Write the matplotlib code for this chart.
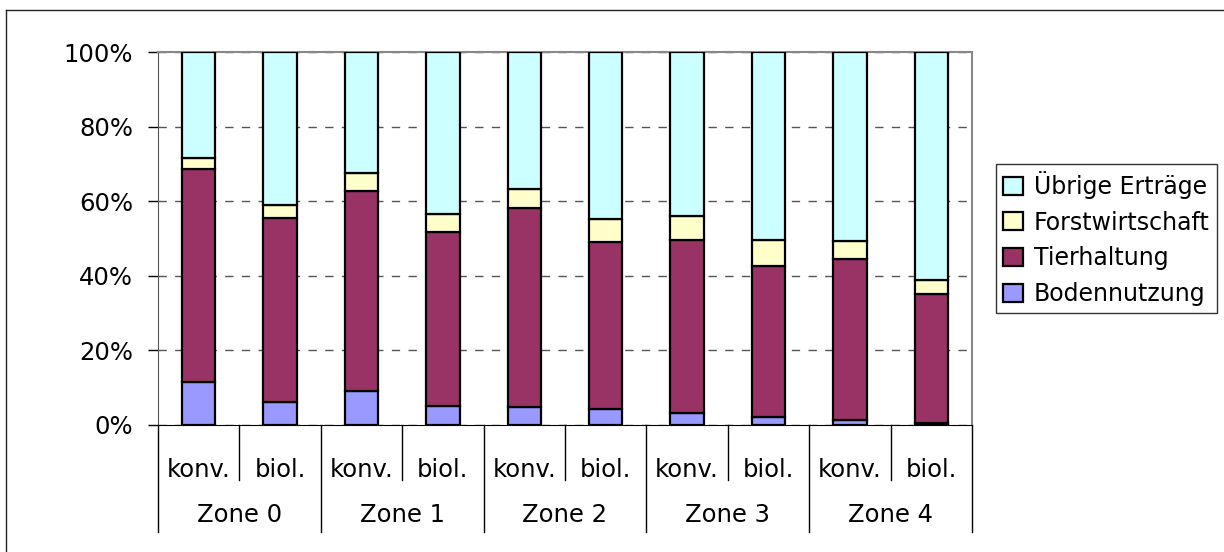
import numpy as np
import matplotlib
matplotlib.use("Agg")
import matplotlib.pyplot as plt
from matplotlib.lines import Line2D

# Daten (Anteile in %)
zonen = ["Zone 0", "Zone 1", "Zone 2", "Zone 3", "Zone 4"]
betrieb = ["konv.", "biol."]
bodennutzung = [11.4, 6.1, 9.0, 5.0, 4.7, 4.4, 3.3, 2.2, 1.4, 0.6]
tierhaltung = [57.1, 49.3, 53.7, 46.8, 53.4, 44.7, 46.2, 40.3, 43.1, 34.4]
forstwirtschaft = [3.2, 3.6, 4.9, 4.8, 5.3, 6.0, 6.5, 7.2, 4.8, 3.8]
uebrige = [100 - a - b - c for a, b, c in zip(bodennutzung, tierhaltung, forstwirtschaft)]

serien = [
    ("Bodennutzung", bodennutzung, "#9999FF"),
    ("Tierhaltung", tierhaltung, "#993366"),
    ("Forstwirtschaft", forstwirtschaft, "#FFFFCC"),
    ("Übrige Erträge", uebrige, "#CCFFFF"),
]

plt.rcParams["font.family"] = ["DejaVu Sans"]

W, H = 1224, 552
fig = plt.figure(figsize=(W / 100, H / 100), dpi=100)
# Plotfläche in Pixeln: links 158, rechts 972, oben 52, unten 425
ax = fig.add_axes([158 / W, 1 - 425 / H, (972 - 158) / W, (425 - 52) / H])

n = len(bodennutzung)
x = np.arange(n)
unten = np.zeros(n)
handles = []
for name, werte, farbe in serien:
    b = ax.bar(x, werte, bottom=unten, width=0.41, color=farbe,
               edgecolor="black", linewidth=1.6, label=name, zorder=3)
    handles.append(b)
    unten += np.array(werte)

ax.set_xlim(-0.5, n - 0.5)
ax.set_ylim(0, 100)
ax.set_yticks([0, 20, 40, 60, 80, 100])
ax.set_yticklabels(["0%", "20%", "40%", "60%", "80%", "100%"], fontsize=17.5)
ax.tick_params(axis="y", length=7, width=1, pad=11)
ax.set_xticks([])
ax.yaxis.grid(True, linestyle=(0, (6, 6)), color="#555555", linewidth=1)
ax.set_axisbelow(True)

for s in ["top", "right"]:
    ax.spines[s].set_color("#888888")
    ax.spines[s].set_linewidth(1.5)
ax.spines["left"].set_color("#555555")
ax.spines["bottom"].set_color("black")

# Kategorie-Beschriftung (zweistufig)
hoehe = 425 - 52
kurz = -(480 - 425) / hoehe
lang = -(532 - 425) / hoehe
trans = ax.get_xaxis_transform()
for i in range(n + 1):
    y_end = lang if i % 2 == 0 else kurz
    ax.add_line(Line2D([i - 0.5, i - 0.5], [0, y_end], transform=trans,
                       color="black", linewidth=1, clip_on=False))
for i in range(n):
    ax.text(i, -(470 - 425) / hoehe, betrieb[i % 2], transform=trans,
            ha="center", va="center", fontsize=17.5)
for j, z in enumerate(zonen):
    ax.text(2 * j + 0.5, -(515 - 425) / hoehe, z, transform=trans,
            ha="center", va="center", fontsize=17.5)

# Legende
leg = ax.legend(handles[::-1], [s[0] for s in serien][::-1],
                loc="center left", bbox_to_anchor=(996 / W, 1 - 238.5 / H),
                bbox_transform=fig.transFigure, fontsize=17, frameon=True,
                fancybox=False, edgecolor="black", handlelength=0.85,
                handleheight=0.8, handletextpad=0.45, labelspacing=0.5,
                borderpad=0.3, borderaxespad=0)
leg.get_frame().set_linewidth(1)

# Rahmen um die Grafik (links und oben sichtbar)
fig.add_artist(Line2D([6 / W, 6 / W], [0, 1 - 10 / H], transform=fig.transFigure,
                      color="#222222", linewidth=1))
fig.add_artist(Line2D([6 / W, 1], [1 - 10 / H, 1 - 10 / H], transform=fig.transFigure,
                      color="#222222", linewidth=1))

fig.savefig("out.png", dpi=100)
